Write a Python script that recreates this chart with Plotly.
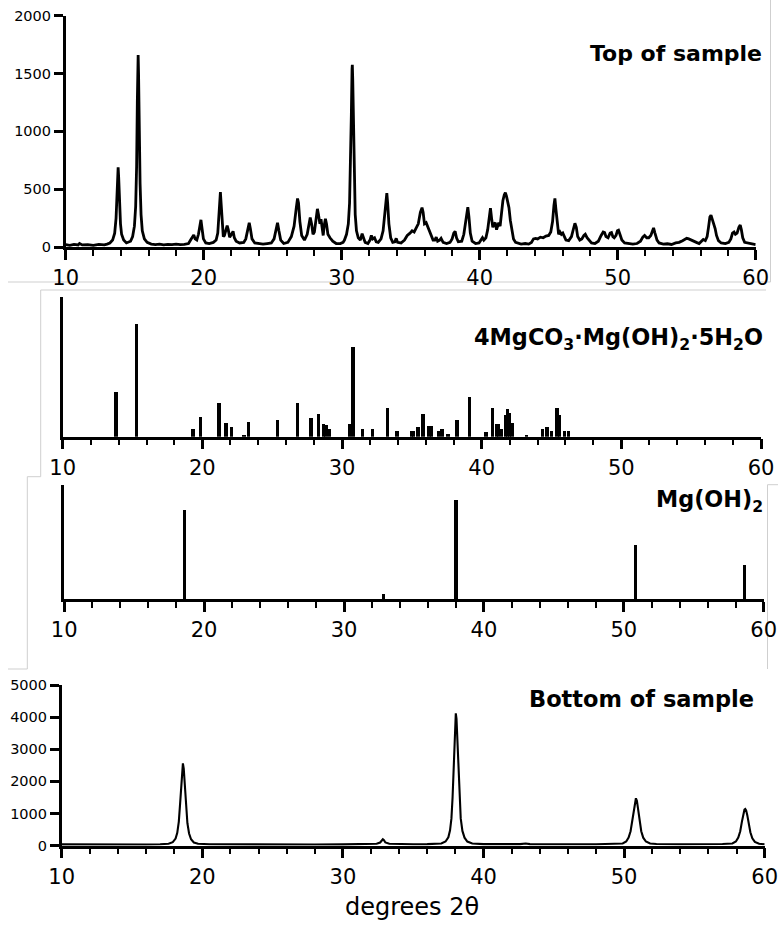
import plotly.graph_objects as go

W, H = 778, 928

# ---------------- Data ----------------
top_theta = [10.0, 10.3, 10.6, 10.9, 11.0, 11.2, 11.6, 12.0, 12.4, 12.8, 13.0, 13.2, 13.4, 13.55, 13.65, 13.72, 13.77, 13.8,
             13.84, 13.9, 13.97, 14.05, 14.2, 14.4, 14.55, 14.7, 14.85, 14.98, 15.07, 15.14, 15.19, 15.23, 15.25, 15.28,
             15.33, 15.39, 15.46, 15.55, 15.7, 15.9, 16.2, 16.5, 16.8, 17.1, 17.4, 17.7, 18.0, 18.3, 18.6, 18.9, 19.05,
             19.2, 19.28, 19.38, 19.5, 19.62, 19.72, 19.8, 19.88, 19.98, 20.15, 20.4, 20.7, 20.9, 21.02, 21.1, 21.17,
             21.21, 21.26, 21.33, 21.42, 21.5, 21.6, 21.7, 21.78, 21.88, 21.96, 22.06, 22.13, 22.22, 22.35, 22.6, 22.9,
             23.05, 23.18, 23.3, 23.38, 23.5, 23.7, 24.0, 24.3, 24.6, 24.9, 25.1, 25.25, 25.35, 25.45, 25.58, 25.8,
             26.1, 26.35, 26.55, 26.7, 26.8, 26.87, 26.97, 27.1, 27.3, 27.5, 27.62, 27.72, 27.82, 27.92, 28.02, 28.15,
             28.24, 28.32, 28.42, 28.5, 28.58, 28.66, 28.75, 28.82, 28.9, 29.0, 29.15, 29.35, 29.6, 29.9, 30.1, 30.2,
             30.35, 30.48, 30.57, 30.64, 30.7, 30.75, 30.77, 30.8, 30.85, 30.91, 30.98, 31.07, 31.2, 31.35, 31.48,
             31.58, 31.7, 31.9, 32.05, 32.15, 32.25, 32.38, 32.5, 32.65, 32.85, 33.0, 33.12, 33.22, 33.27, 33.33,
             33.42, 33.55, 33.7, 33.85, 33.95, 34.05, 34.3, 34.55, 34.75, 34.95, 35.1, 35.25, 35.4, 35.55, 35.7,
             35.82, 35.9, 36.0, 36.12, 36.22, 36.35, 36.5, 36.62, 36.75, 36.85, 36.95, 37.1, 37.2, 37.35, 37.6,
             37.85, 38.0, 38.12, 38.22, 38.32, 38.45, 38.7, 38.85, 38.97, 39.08, 39.14, 39.22, 39.32, 39.45, 39.7,
             39.95, 40.1, 40.2, 40.3, 40.45, 40.58, 40.7, 40.78, 40.86, 40.95, 41.05, 41.13, 41.22, 41.3, 41.38,
             41.48, 41.58, 41.68, 41.78, 41.86, 41.94, 42.03, 42.12, 42.22, 42.33, 42.45, 42.6, 42.8, 43.0, 43.3,
             43.55, 43.75, 43.9, 44.05, 44.2, 44.4, 44.6, 44.8, 45.0, 45.15, 45.28, 45.38, 45.45, 45.52, 45.62,
             45.72, 45.82, 45.92, 46.02, 46.12, 46.25, 46.45, 46.65, 46.8, 46.9, 47.0, 47.1, 47.25, 47.4, 47.55,
             47.65, 47.78, 47.92, 48.1, 48.35, 48.6, 48.8, 48.95, 49.05, 49.15, 49.3, 49.45, 49.55, 49.65, 49.75,
             49.88, 49.98, 50.06, 50.16, 50.3, 50.5, 50.8, 51.1, 51.4, 51.65, 51.82, 51.95, 52.1, 52.25, 52.4,
             52.52, 52.6, 52.7, 52.85, 53.0, 53.3, 53.6, 53.9, 54.2, 54.45, 54.7, 54.85, 55.0, 55.15, 55.3, 55.5,
             55.7, 55.9, 56.05, 56.2, 56.35, 56.48, 56.58, 56.68, 56.76, 56.86, 56.96, 57.06, 57.16, 57.3, 57.5,
             57.8, 58.05, 58.2, 58.32, 58.43, 58.53, 58.65, 58.78, 58.88, 58.96, 59.06, 59.2, 59.5, 59.8, 60.0]
top_counts = [20, 15, 22, 18, 30, 18, 20, 15, 22, 18, 25, 35, 60, 120, 250, 450, 640, 690,
              600, 380, 200, 110, 60, 35, 40, 50, 90, 180, 350, 700, 1250, 1600, 1660, 1500,
              1000, 550, 280, 140, 70, 40, 25, 20, 25, 18, 22, 20, 25, 20, 22, 30, 60,
              95, 105, 70, 60, 110, 190, 235, 160, 70, 35, 30, 40, 60, 120, 250, 430,
              475, 380, 200, 90, 100, 150, 185, 150, 85, 100, 130, 135, 80, 50, 35, 40,
              70, 130, 210, 160, 70, 35, 30, 25, 30, 35, 70, 150, 210, 140, 60, 30,
              40, 90, 180, 330, 420, 380, 220, 100, 60, 110, 200, 255, 200, 110, 130, 250,
              330, 280, 200, 240, 150, 100, 200, 245, 200, 110, 80, 50, 30, 30, 40, 60,
              110, 200, 380, 700, 1150, 1540, 1575, 1450, 1000, 560, 280, 140, 80, 60, 115,
              80, 40, 30, 60, 100, 70, 80, 45, 40, 70, 140, 300, 440, 465, 380,
              200, 80, 40, 45, 75, 40, 35, 60, 100, 120, 140, 130, 160, 200, 300,
              340, 300, 200, 210, 180, 140, 110, 60, 60, 85, 50, 60, 75, 40, 30,
              40, 70, 120, 135, 80, 45, 50, 110, 230, 330, 345, 260, 120, 50, 30,
              35, 60, 80, 60, 80, 150, 280, 335, 250, 170, 200, 210, 150, 190, 210,
              180, 300, 400, 450, 470, 440, 400, 340, 230, 130, 70, 40, 30, 25, 30,
              25, 40, 70, 75, 70, 85, 80, 95, 100, 130, 220, 360, 420, 330, 180,
              110, 130, 110, 120, 90, 60, 55, 90, 160, 205, 170, 90, 60, 70, 100,
              110, 80, 60, 35, 30, 50, 100, 130, 125, 90, 80, 120, 125, 90, 80,
              100, 140, 145, 110, 60, 35, 30, 25, 30, 50, 85, 100, 80, 80, 100,
              150, 165, 120, 60, 35, 25, 28, 22, 35, 40, 55, 65, 75, 70, 60, 50,
              40, 30, 45, 65, 55, 90, 170, 260, 275, 240, 200, 160, 100, 55, 35,
              30, 40, 70, 120, 130, 110, 120, 170, 190, 150, 80, 40, 30, 25, 20]

hmc_theta = [13.79, 15.27, 19.32, 19.85, 21.18, 21.66, 22.06, 22.97, 23.28, 25.35, 26.81, 27.76, 28.3, 28.65,
             28.84, 29.07, 30.5, 30.77, 31.44, 32.15, 33.22, 33.91, 34.94, 35.1, 35.42, 35.78, 36.2, 36.4, 36.9,
             37.13, 37.56, 38.22, 39.1, 40.29, 40.77, 41.05, 41.2, 41.4, 41.7, 41.83, 41.97, 42.15, 43.18, 44.32,
             44.65, 44.97, 45.36, 45.55, 45.9, 46.2]
hmc_int = [32.4, 80.7, 6, 14.3, 24.5, 10.2, 7.1, 1.5, 11, 11.9, 24.5, 13.3, 16.7, 9.5,
           8.3, 5.5, 9.5, 64.3, 5.5, 6, 20.5, 4, 4, 4.5, 7.4, 16.7, 8, 8, 4,
           6, 2, 12, 28.6, 3.8, 20.5, 9.5, 9.5, 6, 16, 20, 17, 10, 1.5, 5.5,
           7, 4, 20.5, 16, 4, 4.5]

mgoh_theta = [18.62, 32.84, 38.03, 50.86, 58.62]
mgoh_int = [78.5, 5.2, 87.3, 48, 30.5]

bot_theta = [10.0, 12.0, 14.0, 16.0, 17.0, 17.6, 17.9, 18.1, 18.22, 18.33, 18.42, 18.5, 18.56, 18.62, 18.68, 18.75,
             18.84, 18.94, 19.06, 19.2, 19.4, 19.7, 20.5, 22.0, 24.0, 26.0, 28.0, 30.0, 31.5, 32.4, 32.65, 32.78,
             32.84, 32.92, 33.02, 33.3, 34.0, 35.0, 36.0, 37.0, 37.3, 37.5, 37.62, 37.72, 37.8, 37.87, 37.93,
             37.98, 38.03, 38.08, 38.14, 38.21, 38.29, 38.38, 38.5, 38.65, 38.85, 39.2, 40.0, 41.5, 42.6, 43.0,
             43.3, 44.5, 46.0, 48.0, 49.3, 49.9, 50.15, 50.32, 50.46, 50.58, 50.68, 50.77, 50.84, 50.91, 51.0,
             51.1, 51.22, 51.36, 51.55, 51.85, 52.3, 54.0, 56.0, 57.0, 57.7, 57.95, 58.12, 58.26, 58.38, 58.48,
             58.56, 58.62, 58.68, 58.76, 58.86, 58.98, 59.12, 59.3, 59.6, 60.0]
bot_counts = [40, 35, 40, 38, 45, 60, 110, 220, 400, 750, 1300, 1950, 2400, 2560, 2400, 1900,
              1250, 700, 380, 200, 100, 60, 45, 40, 38, 40, 38, 40, 45, 60, 100, 170,
              200, 170, 100, 60, 45, 45, 50, 70, 130, 260, 480, 850, 1500, 2400, 3400,
              3950, 4120, 3950, 3350, 2400, 1500, 850, 460, 250, 130, 70, 50, 45, 50, 70,
              50, 45, 42, 45, 60, 70, 130, 250, 450, 800, 1150, 1420, 1475, 1400, 1150,
              800, 450, 250, 130, 70, 55, 45, 45, 55, 70, 130, 250, 450, 750, 1000,
              1120, 1142, 1100, 950, 700, 420, 230, 120, 60, 45]

x_ticks = [10, 20, 30, 40, 50, 60]
top_yticks = [0, 500, 1000, 1500, 2000]
bot_yticks = [0, 1000, 2000, 3000, 4000, 5000]

FONT = "DejaVu Sans"


def px(x):
    return x / W


def py(y):
    return 1 - y / H


fig = go.Figure()
fig.add_trace(go.Scatter(x=top_theta, y=top_counts, mode="lines", line=dict(color="black", width=2.8),
                         xaxis="x", yaxis="y", showlegend=False))
fig.add_trace(go.Bar(x=hmc_theta, y=hmc_int, width=0.24, marker=dict(color="black", line=dict(width=0)),
                     xaxis="x2", yaxis="y2", showlegend=False))
fig.add_trace(go.Bar(x=mgoh_theta, y=mgoh_int, width=0.24, marker=dict(color="black", line=dict(width=0)),
                     xaxis="x3", yaxis="y3", showlegend=False))
fig.add_trace(go.Scatter(x=bot_theta, y=bot_counts, mode="lines", line=dict(color="black", width=2.1),
                         xaxis="x4", yaxis="y4", showlegend=False))


def xax(dom, anchor):
    return dict(domain=dom, anchor=anchor, range=[10, 60], showline=True, linewidth=2.5, linecolor="black",
                ticks="outside", ticklen=10, tickwidth=2.5, tickcolor="black",
                tickvals=x_ticks, ticktext=[str(v) for v in x_ticks],
                tickfont=dict(family=FONT, size=21, color="black"), ticklabeloverflow="allow",
                minor=dict(dtick=2, tick0=10, ticks="outside", ticklen=6, tickwidth=2, tickcolor="black",
                           showgrid=False),
                showgrid=False, zeroline=False, fixedrange=True, automargin=False)


def yax(dom, anchor, rng, ticks=None):
    d = dict(domain=dom, anchor=anchor, range=rng, showline=True, linewidth=2.5, linecolor="black",
             showgrid=False, zeroline=False, fixedrange=True, automargin=False)
    if ticks is None:
        d.update(ticks="", showticklabels=False)
    else:
        d.update(ticks="outside", ticklen=9, tickwidth=2.5, tickcolor="black", tickvals=ticks,
                 ticktext=[str(v) for v in ticks], tickfont=dict(family=FONT, size=14.5, color="black"),
                 ticklabeloverflow="allow")
    return d


layout = dict(
    template="none",
    width=W, height=H, autosize=False, margin=dict(l=0, r=0, t=0, b=0, pad=0),
    paper_bgcolor="white", plot_bgcolor="rgba(0,0,0,0)",
    showlegend=False, bargap=0,
    xaxis=xax([px(65.7), px(755.7)], "y"),
    yaxis=yax([py(247), py(15.7)], "x", [0, 2000], top_yticks),
    xaxis2=xax([px(62.7), px(761)], "y2"),
    yaxis2=yax([py(436.7), py(296.7)], "x2", [0, 100]),
    xaxis3=xax([px(64.2), px(763.7)], "y3"),
    yaxis3=yax([py(599.3), py(484.7)], "x3", [0, 100]),
    xaxis4=xax([px(61.7), px(764.7)], "y4"),
    yaxis4=yax([py(845.7), py(685)], "x4", [0, 5000], bot_yticks),
)

frame = "#cfcfcf"
segs = [
    (770.5, 0, 770.5, 282), (8, 282, 770.5, 282),
    (40.7, 290, 766, 290), (40.7, 290, 40.7, 476.7),
    (27.3, 476.7, 40.7, 476.7), (27.3, 476.7, 27.3, 669), (8, 669, 27.3, 669),
    (767.5, 484.7, 778, 484.7), (767.5, 484.7, 767.5, 669),
]
shapes = [dict(type="line", xref="paper", yref="paper", x0=px(a), y0=py(b), x1=px(c), y1=py(d),
               line=dict(color=frame, width=1), layer="below") for a, b, c, d in segs]
layout["shapes"] = shapes


def ann(text, x, y, size, xanchor="right", bold=True):
    return dict(text=("<b>%s</b>" % text) if bold else text, x=px(x), y=py(y), xref="paper", yref="paper",
                xanchor=xanchor, yanchor="middle", showarrow=False,
                font=dict(family=FONT, size=size, color="black"))


layout["annotations"] = [
    ann("Top of sample", 764, 53, 22),
    ann("4MgCO<sub>3</sub>·Mg(OH)<sub>2</sub>·5H<sub>2</sub>O", 765, 339, 22.4),
    ann("Mg(OH)<sub>2</sub>", 765, 501, 22.3),
    ann("Bottom of sample", 756, 699, 22.5),
    ann("degrees 2θ", 412, 907, 24, xanchor="center", bold=False),
]

fig.update_layout(**layout)
fig.write_html("out.html")
